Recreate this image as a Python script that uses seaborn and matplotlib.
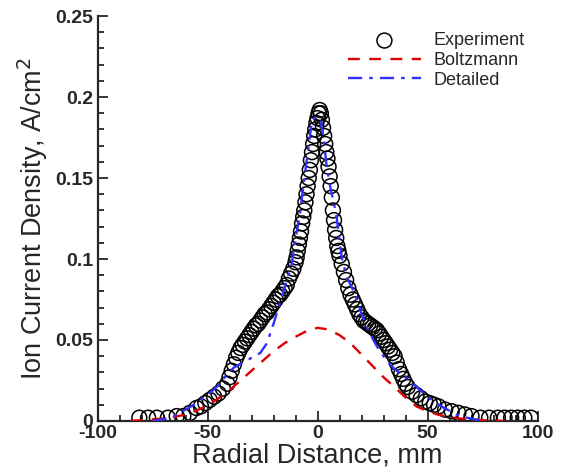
import matplotlib
matplotlib.use("Agg")
import matplotlib.pyplot as plt
import seaborn as sns
import pandas as pd

# experiment: radial distance (mm) and ion current density (A/cm^2)
exp_x = [-81, -77, -73, -68, -64, -61, -58, -55, -53, -51, -49, -47, -45, -43,
         -41, -40, -39, -38, -37, -36, -35, -34, -33, -32, -31, -30, -29, -28,
         -27, -26, -25, -24, -23, -22, -21, -20, -19, -18, -17, -16, -15, -14,
         -13, -12, -11, -10, -9.5, -9, -8.5, -8, -7.5, -7, -6.5, -6, -5.5, -5,
         -4.5, -4, -3.5, -3, -2.5, -2, -1.5, -1, -0.5, 0, 0.5, 1, 1.5, 2, 2.5,
         3, 3.5, 4, 4.5, 5, 5.5, 6, 6.5, 7, 7.5, 8, 8.5, 9, 9.5, 10, 11, 12,
         13, 14, 15, 16, 17, 18, 19, 20, 21, 22, 23, 24, 25, 26, 27, 28, 29,
         30, 31, 32, 33, 34, 35, 36, 37, 38, 39, 40, 41, 43, 45, 47, 49, 51,
         53, 55, 58, 61, 64, 67, 70, 74, 78, 82, 85, 88, 91, 94, 97]
exp_y = [0.002, 0.002, 0.002, 0.002, 0.003, 0.003, 0.005, 0.008, 0.009, 0.011,
         0.013, 0.015, 0.017, 0.020, 0.023, 0.027, 0.031, 0.035, 0.039, 0.042,
         0.045, 0.047, 0.049, 0.051, 0.053, 0.055, 0.057, 0.059, 0.060, 0.062,
         0.064, 0.066, 0.067, 0.069, 0.071, 0.073, 0.075, 0.077, 0.078, 0.080,
         0.082, 0.084, 0.088, 0.091, 0.094, 0.098, 0.101, 0.105, 0.109, 0.113,
         0.117, 0.122, 0.126, 0.130, 0.135, 0.140, 0.145, 0.150, 0.155, 0.161,
         0.166, 0.171, 0.176, 0.180, 0.184, 0.187, 0.190, 0.192, 0.190, 0.186,
         0.181, 0.176, 0.171, 0.166, 0.162, 0.157, 0.151, 0.145, 0.138, 0.130,
         0.124, 0.118, 0.113, 0.108, 0.105, 0.102, 0.097, 0.092, 0.087, 0.082,
         0.078, 0.075, 0.072, 0.069, 0.066, 0.064, 0.062, 0.061, 0.060, 0.059,
         0.058, 0.057, 0.056, 0.054, 0.052, 0.050, 0.048, 0.046, 0.044, 0.042,
         0.040, 0.036, 0.032, 0.029, 0.026, 0.023, 0.021, 0.018, 0.016, 0.014,
         0.012, 0.011, 0.010, 0.009, 0.007, 0.006, 0.005, 0.004, 0.003, 0.002,
         0.002, 0.002, 0.002, 0.002, 0.002, 0.002, 0.002]

# Boltzmann model
boltz_x = [-85, -80, -75, -70, -65, -60, -55, -50, -45, -40, -35, -30, -25, -20,
           -15, -10, -5, 0, 5, 10, 15, 20, 25, 30, 35, 40, 45, 50, 55, 60, 65,
           70, 75, 80, 85]
boltz_y = [0.0, 0.0005, 0.001, 0.0015, 0.0025, 0.004, 0.0065, 0.0095, 0.014,
           0.019, 0.025, 0.031, 0.037, 0.043, 0.048, 0.052, 0.0555, 0.0575,
           0.0565, 0.053, 0.048, 0.041, 0.034, 0.027, 0.021, 0.0145, 0.009,
           0.006, 0.0038, 0.0025, 0.0015, 0.001, 0.0005, 0.0002, 0.0]

# detailed model
det_x = [-75, -70, -65, -60, -55, -50, -45, -41, -38, -34, -30, -26, -23, -20,
         -17, -14, -12, -10, -8, -6, -4, -2.5, 0, 1.5, 3, 4, 6, 8.5, 11, 13, 15,
         17.5, 20, 23, 27, 31, 35, 40, 45, 50, 55, 59, 63, 68, 75]
det_y = [0.0, 0.001, 0.003, 0.007, 0.011, 0.016, 0.022, 0.029, 0.033, 0.036,
         0.039, 0.042, 0.048, 0.060, 0.073, 0.087, 0.095, 0.112, 0.128, 0.150,
         0.170, 0.186, 0.188, 0.186, 0.172, 0.159, 0.143, 0.128, 0.101, 0.090,
         0.084, 0.077, 0.066, 0.056, 0.046, 0.038, 0.032, 0.027, 0.021, 0.015,
         0.010, 0.007, 0.004, 0.002, 0.0]

sns.set_style("ticks")
plt.rcParams["font.family"] = ["Liberation Sans", "DejaVu Sans"]

exp_df = pd.DataFrame({"r": exp_x, "j": exp_y})
boltz_df = pd.DataFrame({"r": boltz_x, "j": boltz_y})
det_df = pd.DataFrame({"r": det_x, "j": det_y})

fig = plt.figure(figsize=(5.67, 4.73), dpi=100)
ax = fig.add_axes([0.172, 0.11, 0.776, 0.856])

sns.scatterplot(data=exp_df, x="r", y="j", ax=ax, marker="o", s=115,
                facecolors="none", edgecolor="black", linewidth=1.1,
                label="Experiment", zorder=2)
sns.lineplot(data=boltz_df, x="r", y="j", ax=ax, color="#dd0000",
             linewidth=1.7, label="Boltzmann", zorder=3)
sns.lineplot(data=det_df, x="r", y="j", ax=ax, color="#3030ff",
             linewidth=1.7, label="Detailed", zorder=3)
ax.lines[0].set_dashes([5, 4])
ax.lines[1].set_dashes([6, 3, 1.5, 3])

ax.set_xlim(-100, 100)
ax.set_ylim(0, 0.25)
ax.set_xticks([-100, -50, 0, 50, 100])
ax.set_xticklabels(["-100", "-50", "0", "50", "100"])
ax.set_xticks(range(-90, 100, 10), minor=True)
ax.set_yticks([0, 0.05, 0.1, 0.15, 0.2, 0.25])
ax.set_yticklabels(["0", "0.05", "0.1", "0.15", "0.2", "0.25"])
ax.set_yticks([i / 100 for i in range(1, 25)], minor=True)

ax.tick_params(which="both", direction="in", width=1.3, top=False,
               right=False, labelsize=14, pad=3)
ax.tick_params(which="major", length=7)
ax.tick_params(which="minor", length=4)
for lab in ax.get_xticklabels() + ax.get_yticklabels():
    lab.set_fontweight("bold")

for side in ["top", "right"]:
    ax.spines[side].set_visible(False)
for side in ["left", "bottom"]:
    ax.spines[side].set_linewidth(1.6)

ax.set_xlabel("Radial Distance, mm", fontsize=19.5, labelpad=0)
ax.set_ylabel("Ion Current Density, A/cm$^2$", fontsize=19.5, labelpad=4)

leg = ax.legend(loc="upper left", bbox_to_anchor=(0.57, 0.96), frameon=False,
                fontsize=13, handlelength=4.0, handletextpad=0.72,
                labelspacing=0.15, borderpad=0, borderaxespad=0)

fig.savefig("out.png", dpi=100)
